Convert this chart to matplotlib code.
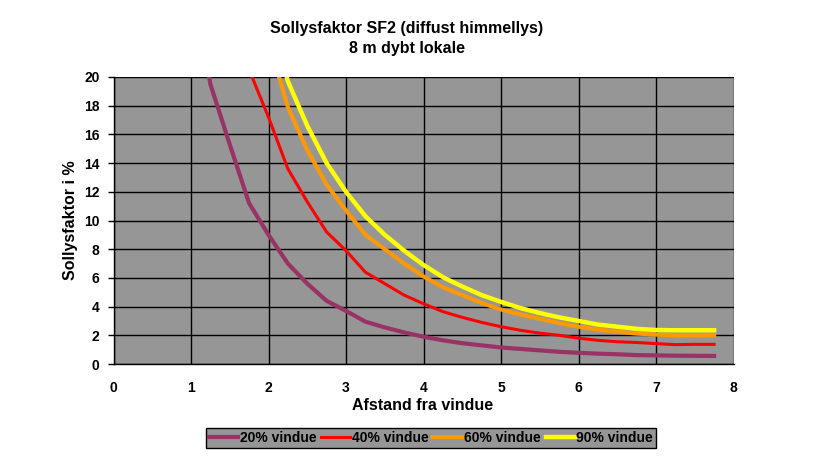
import matplotlib
matplotlib.use("Agg")
import matplotlib.pyplot as plt

plt.rcParams['font.family'] = ['Liberation Sans', 'DejaVu Sans']

title_lines = ["Sollysfaktor SF2 (diffust himmellys)", "8 m dybt lokale"]
x_label = "Afstand fra vindue"
y_label = "Sollysfaktor i %"
series_names = ["20% vindue", "40% vindue", "60% vindue", "90% vindue"]
series_colors = ["#993366", "#FF0000", "#FF9900", "#FFFF00"]

x_20 = [1.0, 1.25, 1.5, 1.75, 2.0, 2.25, 2.5, 2.75, 3.0, 3.25, 3.5, 3.75, 4.0, 4.25, 4.5,
        4.75, 5.0, 5.25, 5.5, 5.75, 6.0, 6.25, 6.5, 6.75, 7.0, 7.25, 7.5, 7.75]
y_20 = [28.0, 19.5, 15.3, 11.2, 9.0, 7.0, 5.6, 4.4, 3.7, 2.95, 2.55, 2.2, 1.9, 1.65, 1.45,
        1.3, 1.15, 1.05, 0.95, 0.85, 0.78, 0.72, 0.68, 0.62, 0.6, 0.58, 0.57, 0.56]

x_40 = [1.5, 1.75, 2.0, 2.25, 2.5, 2.75, 3.0, 3.25, 3.5, 3.75, 4.0, 4.25, 4.5,
        4.75, 5.0, 5.25, 5.5, 5.75, 6.0, 6.25, 6.5, 6.75, 7.0, 7.25, 7.5, 7.75]
y_40 = [28.0, 20.5, 17.2, 13.6, 11.3, 9.2, 7.9, 6.4, 5.6, 4.8, 4.2, 3.65, 3.25,
        2.9, 2.6, 2.35, 2.15, 2.0, 1.8, 1.65, 1.55, 1.5, 1.42, 1.35, 1.37, 1.37]

x_60 = [2.0, 2.25, 2.5, 2.75, 3.0, 3.25, 3.5, 3.75, 4.0, 4.25, 4.5,
        4.75, 5.0, 5.25, 5.5, 5.75, 6.0, 6.25, 6.5, 6.75, 7.0, 7.25, 7.5, 7.75]
y_60 = [22.5, 17.9, 14.9, 12.5, 10.7, 9.0, 8.0, 7.0, 6.1, 5.35, 4.8,
        4.25, 3.8, 3.45, 3.15, 2.85, 2.6, 2.4, 2.25, 2.12, 2.05, 2.0, 2.0, 2.0]

x_90 = [2.0, 2.25, 2.5, 2.75, 3.0, 3.25, 3.5, 3.75, 4.0, 4.25, 4.5,
        4.75, 5.0, 5.25, 5.5, 5.75, 6.0, 6.25, 6.5, 6.75, 7.0, 7.25, 7.5, 7.75]
y_90 = [25.0, 19.7, 16.6, 14.0, 12.0, 10.3, 9.0, 7.9, 6.9, 6.05, 5.4,
        4.8, 4.33, 3.9, 3.55, 3.25, 3.0, 2.75, 2.6, 2.45, 2.37, 2.35, 2.35, 2.35]

x_ticks = [0, 1, 2, 3, 4, 5, 6, 7, 8]
y_ticks = [0, 2, 4, 6, 8, 10, 12, 14, 16, 18, 20]

W, H = 813, 459
fig = plt.figure(figsize=(W / 100, H / 100), dpi=100)
ax = fig.add_axes([113.5 / W, 1 - 364 / H, 620 / W, 287 / H])
ax.set_facecolor("#969696")

xs = [x_20, x_40, x_60, x_90]
ys = [y_20, y_40, y_60, y_90]
widths = [3.0, 2.2, 3.0, 3.2]
for x, y, name, c, lw in zip(xs, ys, series_names, series_colors, widths):
    ax.plot(x, y, color=c, lw=lw, label=name, solid_joinstyle='round')

ax.set_xlim(0, 8)
ax.set_ylim(0, 20)
ax.set_xticks(x_ticks)
ax.set_yticks(y_ticks)
ax.grid(True, color="black", lw=1.0)
ax.set_axisbelow(True)
for s in ['top', 'right']:
    ax.spines[s].set_visible(False)
for s in ['left', 'bottom']:
    ax.spines[s].set_color('black')
    ax.spines[s].set_linewidth(1.0)

ax.tick_params(axis='x', length=0, pad=12, labelsize=10)
ax.tick_params(axis='y', length=4, width=1, pad=6, labelsize=10, direction='out')
for lab in ax.get_xticklabels() + ax.get_yticklabels():
    lab.set_fontweight('bold')

ax.set_xlabel(x_label, fontsize=11.5, fontweight='bold')
ax.xaxis.set_label_coords(0.499, -0.118)
ax.set_ylabel(y_label, fontsize=11.5, fontweight='bold')
ax.yaxis.set_label_coords(-0.057, 0.5)

fig.text(0.5, 1 - 29 / H, title_lines[0], ha='center', va='center', fontsize=11.5, fontweight='bold')
fig.text(0.5, 1 - 48 / H, title_lines[1], ha='center', va='center', fontsize=11.5, fontweight='bold')

leg = fig.legend(loc='center', bbox_to_anchor=(431 / W, 1 - 438 / H), ncol=4,
                 frameon=True, fancybox=False, facecolor="#969696", edgecolor="black",
                 framealpha=1, handlelength=2.1, handletextpad=0.1, columnspacing=0.35,
                 borderpad=0.2, prop={'weight': 'bold', 'size': 10})
leg.get_frame().set_linewidth(1.0)

fig.savefig("out.png", dpi=100)
